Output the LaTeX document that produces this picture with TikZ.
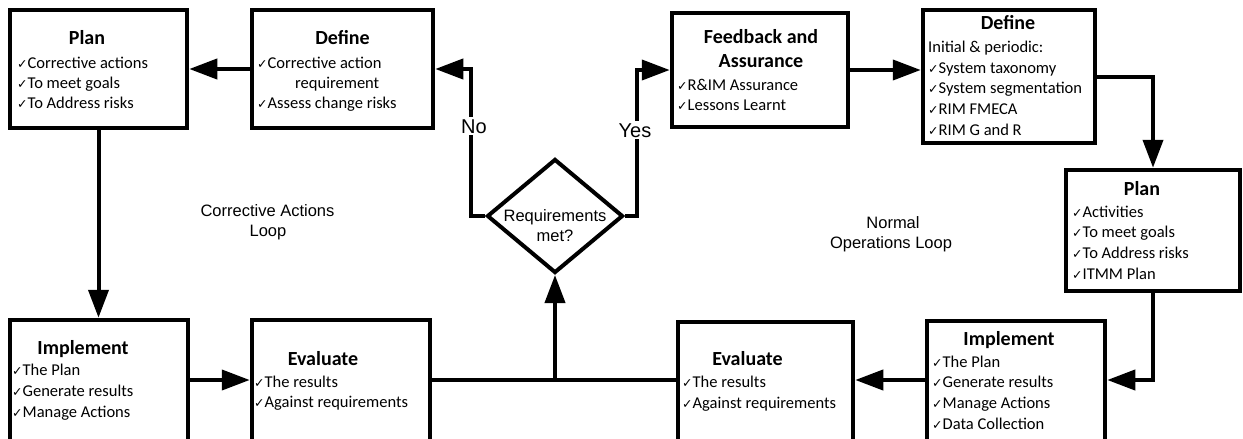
\documentclass[tikz,border=0pt]{standalone}
\usepackage{fontspec}
\setmainfont{Carlito}
\newfontfamily\arialf{Liberation Sans}
\newfontfamily\symf{DejaVu Sans}
\usetikzlibrary{arrows.meta,shapes.geometric}
\newcommand\ck{{\symf\fontsize{12.5}{12.5}\selectfont ✓}}
\begin{document}
\begin{tikzpicture}[x=1pt,y=-1pt,
  box/.style={draw,line width=4.5pt,inner sep=0pt,rectangle},
  dec/.style={draw,line width=4pt,diamond,inner sep=0pt,aspect=1},
  conn/.style={line width=4pt},
  arr/.style={line width=4pt,-{Triangle[length=28pt,width=20pt]}},
  ttl/.style={anchor=base,inner sep=0pt,font=\bfseries\fontsize{20}{24}\selectfont},
  txt/.style={anchor=base west,inner sep=0pt,font=\fontsize{16.5}{20}\selectfont},
  lbl/.style={anchor=base,inner sep=0pt,font=\arialf\fontsize{16.5}{20}\selectfont},
  yn/.style={anchor=base,inner sep=2pt,fill=white,font=\arialf\fontsize{20}{24}\selectfont}]
\useasboundingbox (0,0) rectangle (1243,439);
\clip (0,0) rectangle (1243,439);
\fill[white] (0,0) rectangle (1243,439);

% process boxes
\node[box,minimum width=177pt,minimum height=118pt] (planL) at (98.5,69) {};
\node[box,minimum width=181pt,minimum height=118pt] (defL) at (342.5,69) {};
\node[box,minimum width=176pt,minimum height=114pt] (fb) at (760,70) {};
\node[box,minimum width=172pt,minimum height=133pt] (defR) at (1009,76.5) {};
\node[box,minimum width=174pt,minimum height=121pt] (planR) at (1153,230.5) {};
\node[box,minimum width=178pt,minimum height=139pt] (implR) at (1016,390.5) {};
\node[box,minimum width=175pt,minimum height=138pt] (evalR) at (765.5,391) {};
\node[box,minimum width=178pt,minimum height=140pt] (evalL) at (341,390) {};
\node[box,minimum width=178pt,minimum height=140pt] (implL) at (99,390) {};
\node[dec,minimum width=136pt,minimum height=114pt] (dia) at (555,216) {};

% box texts
\node[ttl] (t1) at (87,45) {Plan};
\node[txt] (t1a) at (17,68) {\ck Corrective actions};
\node[txt] (t1b) at (17,88) {\ck To meet goals};
\node[txt] (t1c) at (17,108) {\ck To Address risks};

\node[ttl] (t2) at (342.5,45) {Define};
\node[txt] (t2a) at (257,68) {\ck Corrective action};
\node[txt] (t2b) at (295,88) {requirement};
\node[txt] (t2c) at (257,108) {\ck Assess change risks};

\node[ttl] (t3) at (761,43) {Feedback and};
\node[ttl] (t3x) at (761,67) {Assurance};
\node[txt] (t3a) at (677,90) {\ck R\&IM Assurance};
\node[txt] (t3b) at (677,110) {\ck Lessons Learnt};

\node[ttl] (t4) at (1008,30) {Define};
\node[txt] (t4x) at (928,52) {Initial \& periodic:};
\node[txt] (t4a) at (928,73) {\ck System taxonomy};
\node[txt] (t4b) at (928,93) {\ck System segmentation};
\node[txt] (t4c) at (928,114) {\ck RIM FMECA};
\node[txt] (t4d) at (928,135) {\ck RIM G and R};

\node[ttl] (t5) at (1142,195) {Plan};
\node[txt] (t5a) at (1072,217) {\ck Activities};
\node[txt] (t5b) at (1072,237) {\ck To meet goals};
\node[txt] (t5c) at (1072,258) {\ck To Address risks};
\node[txt] (t5d) at (1072,279) {\ck ITMM Plan};

\node[ttl] (t6) at (1009,345) {Implement};
\node[txt] (t6a) at (932,367) {\ck The Plan};
\node[txt] (t6b) at (932,387) {\ck Generate results};
\node[txt] (t6c) at (932,408) {\ck Manage Actions};
\node[txt] (t6d) at (932,429) {\ck Data Collection};

\node[ttl] (t7) at (747.5,365) {Evaluate};
\node[txt] (t7a) at (682,387) {\ck The results};
\node[txt] (t7b) at (682,408) {\ck Against requirements};

\node[ttl] (t8) at (323,365) {Evaluate};
\node[txt] (t8a) at (254,387) {\ck The results};
\node[txt] (t8b) at (254,407) {\ck Against requirements};

\node[ttl] (t9) at (83,354) {Implement};
\node[txt] (t9a) at (12,375) {\ck The Plan};
\node[txt] (t9b) at (12,396) {\ck Generate results};
\node[txt] (t9c) at (12,417) {\ck Manage Actions};

% decision text and loop captions
\node[lbl] (q1) at (555,221.7) {Requirements};
\node[lbl] (q2) at (555,241.7) {met?};
\node[lbl] (c1) at (267.5,216.7) {Corrective Actions};
\node[lbl] (c2) at (268,236) {Loop};
\node[lbl] (n1) at (893,228) {Normal};
\node[lbl] (n2) at (891,248) {Operations Loop};

% connectors
\coordinate (jn) at (555,380);
\draw[arr] (defL.west) -- (planL.east);
\draw[arr] (planL.south) -- (planL.south |- implL.north);
\draw[arr] (implL.east |- jn) -- (evalL.west |- jn);
\draw[conn] (evalL.east |- jn) -- (evalR.west |- jn);
\draw[arr] (jn) -- (dia.south);
\draw[arr] (implR.west |- jn) -- (evalR.east |- jn);
\draw[arr] (planR.south) -- (planR.south |- jn) -- (implR.east |- jn);
\draw[arr] (defR.east) -| (planR.north);
\draw[arr] (fb.east) -- (defR.west |- fb.east);
\draw[arr] (dia.west) -- ++(-14,0) |- (defL.east);
\draw[arr] (dia.east) -- ++(12,0) |- (fb.west);

% branch labels
\node[yn] (no) at (474,133) {No};
\node[yn] (yes) at (635,137) {Yes};
\end{tikzpicture}
\end{document}
